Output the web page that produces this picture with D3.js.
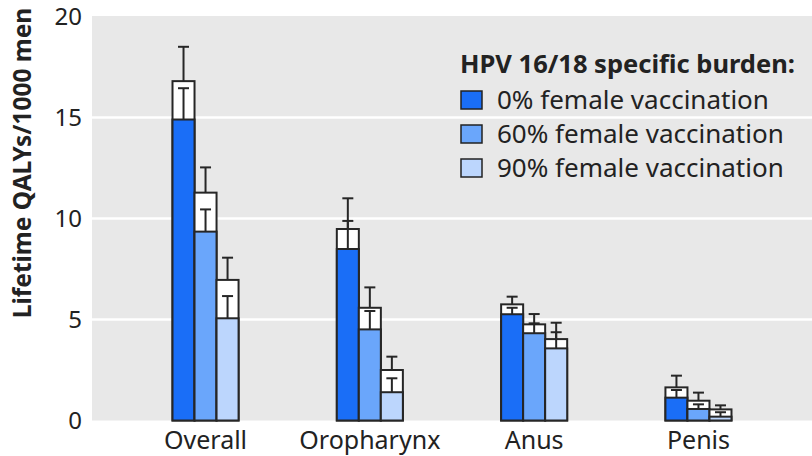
<!DOCTYPE html>
<html>
<head>
<meta charset="utf-8">
<style>
body { margin: 0; background: #fff; }
svg { display: block; font-family: "Noto Sans", sans-serif; }
</style>
</head>
<body>
<svg id="chart" width="812" height="456"></svg>
<script src="https://d3js.org/d3.v7.min.js"></script>
<script>
var categories = ["Overall", "Oropharynx", "Anus", "Penis"];
var series = ["0% female vaccination", "60% female vaccination", "90% female vaccination"];
var colors = ["#1a6ef7", "#6aa6fb", "#bcd6fd"];
var yTicks = [0, 5, 10, 15, 20];

// HPV 16/18 specific burden (coloured part) and its upper limit
var hpvBurden = [[14.9, 9.35, 5.06], [8.49, 4.51, 1.40], [5.26, 4.32, 3.57], [1.13, 0.57, 0.19]];
var hpvUpper  = [[16.45, 10.45, 6.16], [9.88, 5.42, 2.09], [5.58, 4.81, 4.37], [1.51, 0.80, 0.41]];
// total burden (white top) and its upper limit
var totalBurden = [[16.8, 11.28, 6.96], [9.48, 5.58, 2.5], [5.75, 4.76, 4.03], [1.64, 0.98, 0.55]];
var totalUpper  = [[18.5, 12.53, 8.06], [11.0, 6.59, 3.16], [6.13, 5.27, 4.84], [2.22, 1.38, 0.75]];

(function(){
var svg = d3.select("#chart");
var pLeft = 92, pRight = 812, pTop = 16.5, pBottom = 420.5;

var y = d3.scaleLinear().domain([0, 20]).range([pBottom, pTop]);
var x = d3.scaleBand().domain(categories).range([pLeft, pRight]).paddingInner(0.598).paddingOuter(0.49);
var xs = d3.scaleBand().domain(d3.range(series.length)).range([0, x.bandwidth()]);

svg.append("rect").attr("x", pLeft).attr("y", pTop - 0.5).attr("width", pRight - pLeft).attr("height", pBottom - pTop + 0.5)
  .attr("fill", "#e8e8e8");

svg.selectAll(".grid").data(yTicks.filter(function(d){ return d > 0 && d < 20; })).enter().append("line")
  .attr("x1", pLeft).attr("x2", pRight)
  .attr("y1", function(d){ return y(d); }).attr("y2", function(d){ return y(d); })
  .attr("stroke", "#fff").attr("stroke-width", 2.5);

svg.selectAll(".ytick").data(yTicks).enter().append("text")
  .attr("x", 82).attr("y", function(d){ return y(d); }).attr("dy", "0.36em")
  .attr("text-anchor", "end").attr("font-size", 24).attr("fill", "#222")
  .text(function(d){ return d; });

svg.append("text").attr("transform", "translate(22," + 163 + ") rotate(-90)")
  .attr("text-anchor", "middle").attr("dy", "0.36em")
  .attr("font-size", 24.5).attr("font-weight", "bold").attr("fill", "#222")
  .text("Lifetime QALYs/1000 men");

// legend
var lg = svg.append("g");
lg.append("text").attr("x", 460).attr("y", 64).attr("dy", "0.36em")
  .attr("font-size", 25.5).attr("font-weight", "bold").attr("fill", "#222")
  .text("HPV 16/18 specific burden:");
series.forEach(function(s, i){
  var cy = 100 + i * 34;
  lg.append("rect").attr("x", 461).attr("y", cy - 9).attr("width", 21).attr("height", 18)
    .attr("fill", colors[i]).attr("stroke", "#222").attr("stroke-width", 1.5);
  lg.append("text").attr("x", 497).attr("y", cy).attr("dy", "0.36em")
    .attr("font-size", 26).attr("fill", "#222").text(s);
});

var stroke = "#262626";
categories.forEach(function(c, ci){
  var g = svg.append("g").attr("transform", "translate(" + x(c) + ",0)");
  series.forEach(function(s, si){
    var bx = xs(si), bw = xs.bandwidth(), cx = bx + bw / 2;
    g.append("rect").attr("x", bx).attr("y", y(totalBurden[ci][si]))
      .attr("width", bw).attr("height", y(0) - y(totalBurden[ci][si]))
      .attr("fill", "#fff").attr("stroke", stroke).attr("stroke-width", 2);
    g.append("rect").attr("x", bx).attr("y", y(hpvBurden[ci][si]))
      .attr("width", bw).attr("height", y(0) - y(hpvBurden[ci][si]))
      .attr("fill", colors[si]).attr("stroke", stroke).attr("stroke-width", 2);
    [[hpvBurden, hpvUpper], [totalBurden, totalUpper]].forEach(function(p){
      var v0 = p[0][ci][si], v1 = p[1][ci][si];
      g.append("line").attr("x1", cx).attr("x2", cx).attr("y1", y(v0)).attr("y2", y(v1))
        .attr("stroke", stroke).attr("stroke-width", 2);
      g.append("line").attr("x1", cx - 5.5).attr("x2", cx + 5.5).attr("y1", y(v1)).attr("y2", y(v1))
        .attr("stroke", stroke).attr("stroke-width", 2);
    });
  });
  svg.append("text").attr("x", x(c) + x.bandwidth() / 2).attr("y", 440).attr("dy", "0.36em")
    .attr("text-anchor", "middle").attr("font-size", 25).attr("fill", "#222").text(c);
});
})();
</script>
</body>
</html>
